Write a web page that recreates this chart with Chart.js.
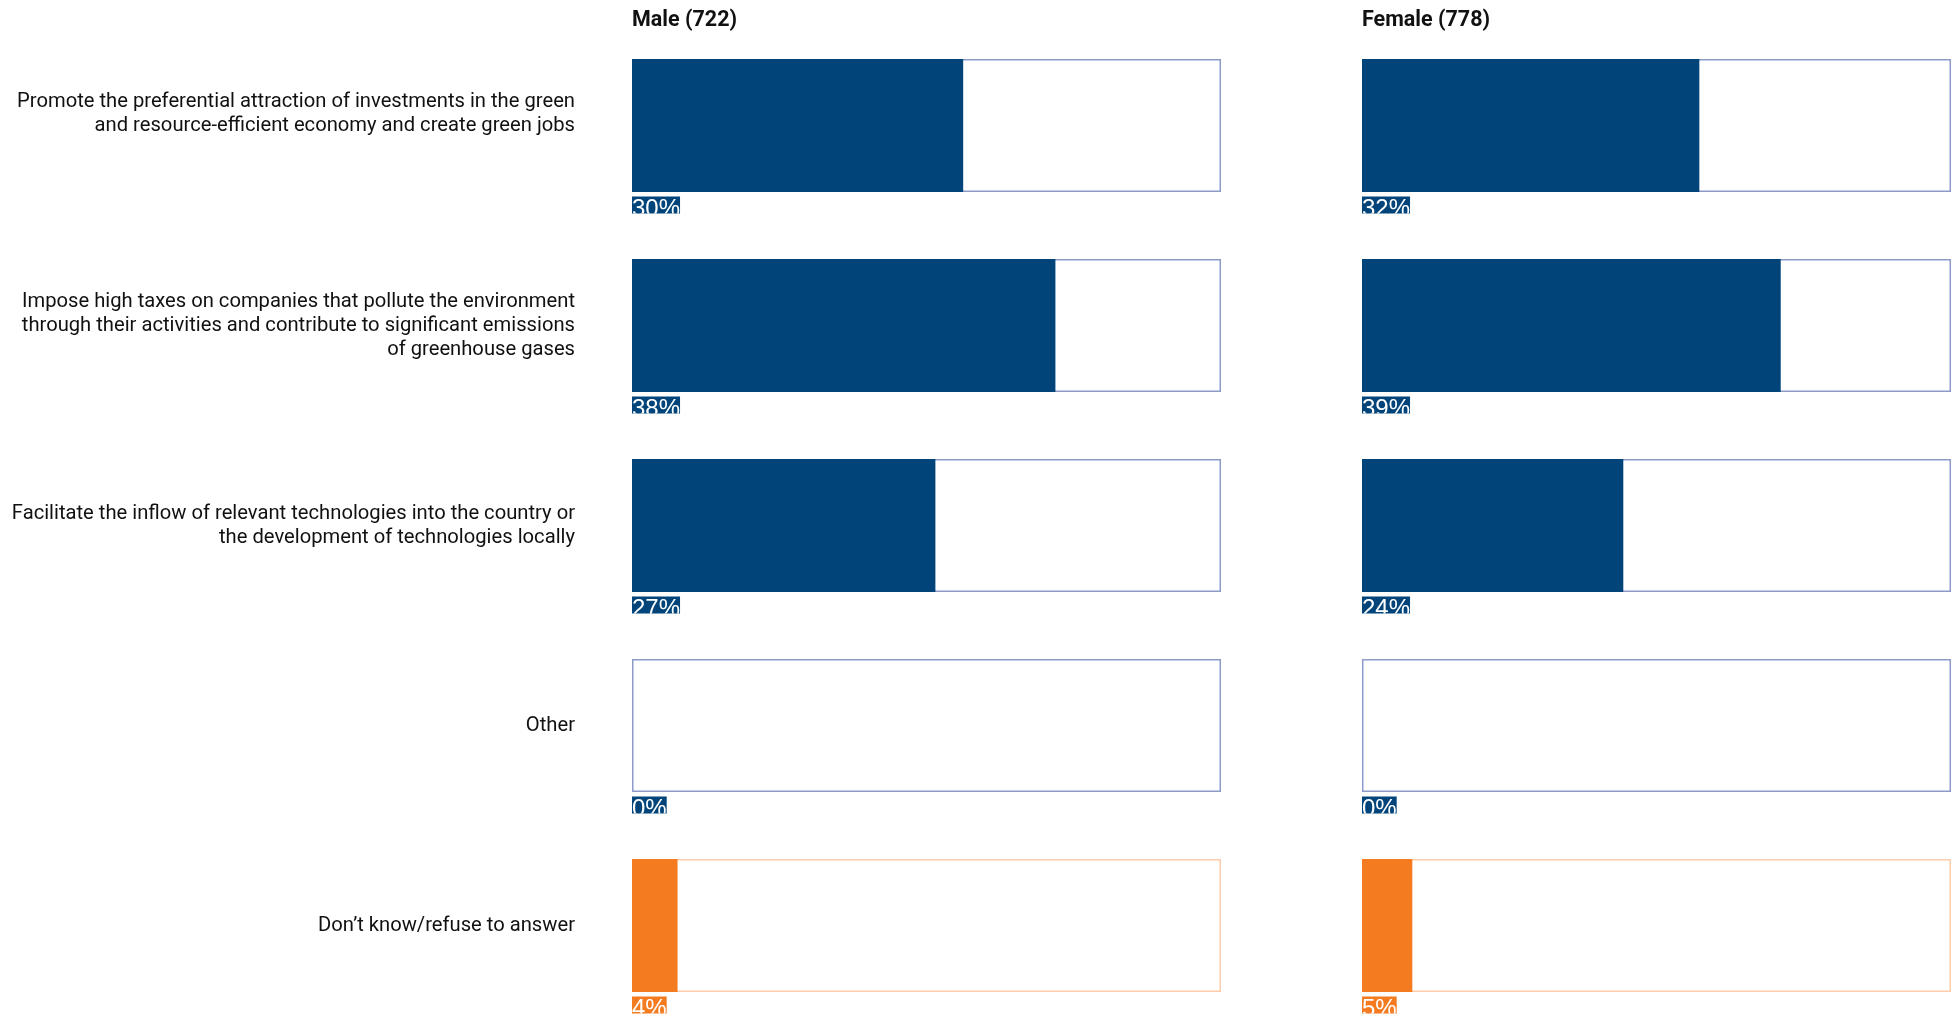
<!DOCTYPE html>
<html>
<head>
<meta charset="utf-8">
<script src="https://cdn.jsdelivr.net/npm/chart.js@4/dist/chart.umd.min.js"></script>
<style>
  html, body { margin: 0; padding: 0; background: #ffffff; overflow: hidden; }
  #wrap { position: relative; width: 1959px; height: 1016px; overflow: hidden; }
  canvas { position: absolute; top: 0; }
  #male { left: 0; }
  #female { left: 1362px; }
</style>
</head>
<body>
<div id="wrap">
  <canvas id="male" width="1226" height="1040"></canvas>
  <canvas id="female" width="597" height="1040"></canvas>
</div>
<script>
// ---- data ----
const categories = [
  ['Promote the preferential attraction of investments in the green', 'and resource-efficient economy and create green jobs', ''],
  ['Impose high taxes on companies that pollute the environment', 'through their activities and contribute to significant emissions', 'of greenhouse gases'],
  ['Facilitate the inflow of relevant technologies into the country or', 'the development of technologies locally'],
  ['Other'],
  ['Don\u2019t know/refuse to answer']
];
const panelTitles = ['Male (722)', 'Female (778)'];
const maleValues   = [29.8, 38.1, 27.3, 0, 4.1];
const femaleValues = [31.5, 39.1, 24.4, 0, 4.7];
const maleLabels   = ['30%', '38%', '27%', '0%', '4%'];
const femaleLabels = ['32%', '39%', '24%', '0%', '5%'];
const maleMax = 53;
const femaleMax = 55;

// ---- styles ----
const NAVY = '#00447a';
const ORANGE = '#f47b20';
const BOX_BLUE = '#8c9bc9';
const BOX_ORANGE = '#ffcda9';
const barColors = [NAVY, NAVY, NAVY, NAVY, ORANGE];
const boxColors = [BOX_BLUE, BOX_BLUE, BOX_BLUE, BOX_BLUE, BOX_ORANGE];

const pctLabelPlugin = {
  id: 'pctLabels',
  afterDatasetsDraw(chart, args, opts) {
    const ctx = chart.ctx;
    const meta = chart.getDatasetMeta(0);
    ctx.save();
    ctx.font = '24px "Liberation Sans", Arial, sans-serif';
    meta.data.forEach((el, i) => {
      const props = el.getProps(['x', 'y', 'base', 'height'], true);
      const left = Math.min(props.base, props.x);
      const bottom = props.y + props.height / 2;
      const txt = opts.labels[i];
      const w = ctx.measureText(txt).width;
      const top = bottom + 4.5;
      const h = 17;
      ctx.save();
      ctx.fillStyle = barColors[i];
      ctx.fillRect(left, top, w, h);
      ctx.beginPath();
      ctx.rect(left, top, w, h);
      ctx.clip();
      ctx.fillStyle = '#ffffff';
      ctx.textBaseline = 'alphabetic';
      ctx.textAlign = 'left';
      ctx.fillText(txt, left, top + 19.2);
      ctx.restore();
    });
    ctx.restore();
  }
};

const panelTitlePlugin = {
  id: 'panelTitle',
  afterDraw(chart, args, opts) {
    const ctx = chart.ctx;
    ctx.save();
    ctx.font = 'bold 21.5px Roboto, sans-serif';
    ctx.fillStyle = '#111111';
    ctx.textBaseline = 'middle';
    ctx.textAlign = 'left';
    ctx.fillText(opts.text, chart.chartArea.left, 21);
    ctx.restore();
  }
};

function makePanel(canvasId, values, labels, max, title, showY, padRight) {
  return new Chart(document.getElementById(canvasId), {
    type: 'bar',
    data: {
      labels: categories,
      datasets: [
        {
          data: values,
          backgroundColor: barColors,
          borderWidth: 0,
          grouped: false,
          order: 1,
          barPercentage: 0.665,
          categoryPercentage: 1
        },
        {
          data: values.map(() => max),
          backgroundColor: 'rgba(255,255,255,0)',
          borderColor: boxColors,
          borderWidth: 1.5,
          borderSkipped: false,
          grouped: false,
          order: 2,
          barPercentage: 0.665,
          categoryPercentage: 1
        }
      ]
    },
    options: {
      indexAxis: 'y',
      responsive: false,
      animation: false,
      devicePixelRatio: 1,
      layout: { padding: { top: 25.5, bottom: 14.5, left: 0, right: padRight } },
      plugins: {
        legend: { display: false },
        tooltip: { enabled: false },
        title: { display: false },
        pctLabels: { labels: labels },
        panelTitle: { text: title }
      },
      scales: {
        x: {
          display: false,
          min: 0,
          max: max
        },
        y: {
          display: showY,
          grid: { display: false, drawTicks: false },
          border: { display: false },
          ticks: {
            padding: 57,
            color: '#111111',
            font: { family: 'Roboto', size: 20.2, lineHeight: 1.19 }
          },
          afterFit(scale) {
            if (showY) {
              scale.width = 632;
              scale.paddingTop = 0;
              scale.paddingBottom = 0;
            }
          }
        }
      }
    },
    plugins: [pctLabelPlugin, panelTitlePlugin]
  });
}

makePanel('male', maleValues, maleLabels, maleMax, panelTitles[0], true, 5);
makePanel('female', femaleValues, femaleLabels, femaleMax, panelTitles[1], false, 8);
</script>
</body>
</html>
